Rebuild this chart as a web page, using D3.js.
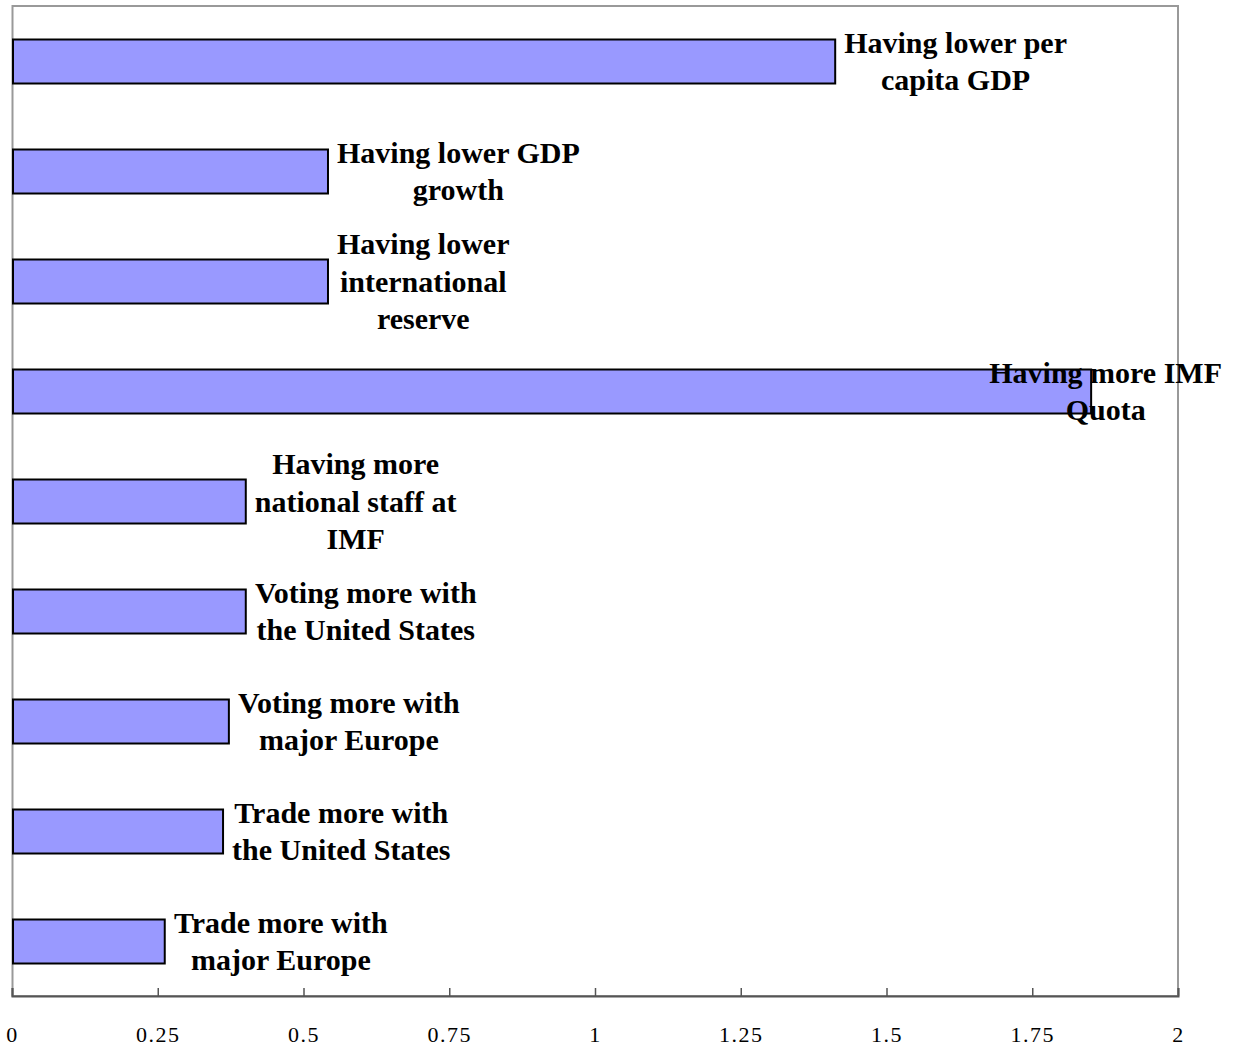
<!DOCTYPE html>
<html><head><meta charset="utf-8">
<script src="https://cdn.jsdelivr.net/npm/d3@7"></script>
<style>body{margin:0;background:#fff}svg{display:block}</style>
</head><body>
<script>
const categories = [
  ["Having lower per","capita GDP"],
  ["Having lower GDP","growth"],
  ["Having lower","international","reserve"],
  ["Having more IMF","Quota"],
  ["Having more","national staff at","IMF"],
  ["Voting more with","the United States"],
  ["Voting more with","major Europe"],
  ["Trade more with","the United States"],
  ["Trade more with","major Europe"]
];
const values = [1.412, 0.542, 0.542, 1.851, 0.401, 0.401, 0.372, 0.362, 0.262];
const tickValues = [0, 0.25, 0.5, 0.75, 1, 1.25, 1.5, 1.75, 2];
const tickLabels = ["0","0.25","0.5","0.75","1","1.25","1.5","1.75","2"];

const W = 1241, H = 1050;
const L = 12, R = 1178, T = 6, B = 996;
const svg = d3.select("body").append("svg").attr("width", W).attr("height", H);

const x = d3.scaleLinear().domain([0, 2]).range([L, R]);
const y = d3.scaleBand().domain(d3.range(categories.length)).range([T, B]).paddingInner(0.6).paddingOuter(0.3);

// frame
svg.append("rect").attr("x", L + 0.5).attr("y", T).attr("width", R - L - 0.5).attr("height", B - T)
  .attr("fill", "none").attr("stroke", "#999").attr("stroke-width", 2);

// bars
svg.append("g").selectAll("rect").data(values).join("rect")
  .attr("x", x(0) + 1).attr("y", (d, i) => y(i) + 0.5)
  .attr("width", d => x(d) - x(0) - 1).attr("height", y.bandwidth())
  .attr("fill", "#9999FF").attr("stroke", "#000").attr("stroke-width", 2);

// axis
const axis = d3.axisBottom(x).tickValues(tickValues).tickFormat((d, i) => tickLabels[i]).tickSize(-8).tickPadding(30);
const ag = svg.append("g").attr("transform", `translate(0,${B})`).call(axis);
ag.select(".domain").attr("stroke", "#555").attr("stroke-width", 2);
ag.selectAll(".tick line").attr("stroke", "#555").attr("stroke-width", 1.5);
ag.selectAll(".tick text").attr("font-family", "'Liberation Serif','Times New Roman',serif")
  .attr("font-size", 22).attr("fill", "#000").attr("letter-spacing", 1.5).attr("dy", "0.32em").attr("y", 39);

// labels
const lh = 37.5;
const lg = svg.append("g").attr("font-family", "'Liberation Serif','Times New Roman',serif")
  .attr("font-weight", "bold").attr("font-size", 30).attr("fill", "#000").attr("text-anchor", "middle");
categories.forEach((lines, i) => {
  const t = lg.append("text");
  lines.forEach((s, j) => t.append("tspan").attr("x", 0).attr("y", (j - (lines.length - 1) / 2) * lh).attr("dy", "0.35em").text(s));
  const w = t.node().getBBox().width;
  let cx = x(values[i]) + 9 + w / 2;
  cx = Math.min(cx, W - 19 - w / 2);
  t.attr("transform", `translate(${cx},${y(i) + y.bandwidth() / 2})`);
});
</script>
</body></html>
